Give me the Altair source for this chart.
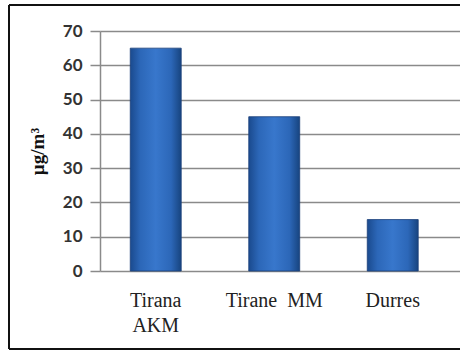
import altair as alt
import pandas as pd

categories = ["Tirana\nAKM", "Tirane\u00a0 MM", "Durres"]
values = [65, 45, 15]
y_ticks = [0, 10, 20, 30, 40, 50, 60, 70]

df = pd.DataFrame({"site": categories, "value": values})

bar_fill = alt.Gradient(
    gradient="linear",
    x1=0, x2=1, y1=0, y2=0,
    stops=[
        alt.GradientStop(color="#1a4a8e", offset=0),
        alt.GradientStop(color="#2c67b8", offset=0.2),
        alt.GradientStop(color="#3877cc", offset=0.5),
        alt.GradientStop(color="#2c67b8", offset=0.8),
        alt.GradientStop(color="#17447f", offset=1),
    ],
)

x_enc = alt.X(
    "site:N",
    sort=categories,
    scale=alt.Scale(paddingInner=0.57, paddingOuter=0.304, align=0.42),
    axis=alt.Axis(
        title=None,
        labelAngle=0,
        domain=False,
        ticks=False,
        labelExpr="split(datum.label, '\\n')",
        labelFont="Liberation Serif",
        labelFontSize=20,
        labelColor="#222222",
        labelLineHeight=25,
        labelPadding=19,
        labelBaseline="top",
    ),
)

y_enc = alt.Y(
    "value:Q",
    scale=alt.Scale(domain=[0, 70], nice=False),
    axis=alt.Axis(
        values=y_ticks,
        title="µg/m³",
        titleFont="Liberation Serif",
        titleFontSize=19,
        titleFontWeight="bold",
        titleColor="#111111",
        titleX=-63,
        titleY=120,
        titleAlign="center",
        titleBaseline="middle",
        titleAngle=270,
        labelFont="Lato",
        labelFontSize=17,
        labelFontWeight="bold",
        labelColor="#333333",
        labelPadding=8,
        tickSize=10,
        tickColor="#8a8a8a",
        tickWidth=1.5,
        domainColor="#8a8a8a",
        domainWidth=1.5,
        grid=True,
        gridColor="#8a8a8a",
        gridWidth=1.5,
    ),
)

bars = alt.Chart(df).mark_bar(
    fill=bar_fill, stroke="#1a3f78", strokeWidth=0.8
).encode(x=x_enc, y=y_enc)

frame = pd.DataFrame({"a": [0]})
left_edge = alt.Chart(frame).mark_rule(color="#111111", strokeWidth=2).encode(
    x=alt.value(-91), y=alt.value(-26), y2=alt.value(318)
)
top_edge = alt.Chart(frame).mark_rule(color="#111111", strokeWidth=2).encode(
    x=alt.value(-91), x2=alt.value(400), y=alt.value(-26)
)
bottom_edge = alt.Chart(frame).mark_rule(color="#111111", strokeWidth=2).encode(
    x=alt.value(-91), x2=alt.value(400), y=alt.value(318)
)

chart = alt.layer(left_edge, top_edge, bottom_edge, bars).properties(
    width=360,
    height=240,
    padding={"left": 100, "top": 31, "right": 0, "bottom": 81},
    autosize=alt.AutoSizeParams(type="none"),
    background="white",
).configure_view(stroke=None)

chart.save("out.html", embed_options={"renderer": "svg", "actions": False})
